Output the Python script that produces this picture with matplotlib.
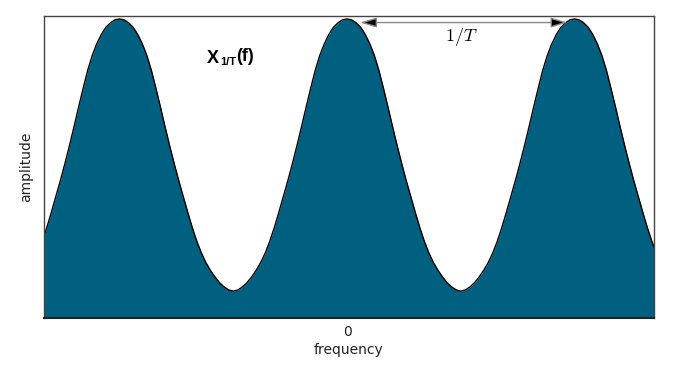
import numpy as np
import matplotlib.pyplot as plt

# --- Data ---
# frequency in units of 1/T (peaks at -1, 0, 1), sampled every 0.02
freq = np.linspace(-1.34, 1.36, 136)
amplitude = [0.256, 0.302, 0.353, 0.406, 0.460, 0.517, 0.577, 0.640, 0.705, 0.768,
             0.828, 0.878, 0.917, 0.948, 0.972, 0.987, 0.997, 1.000,
             0.997, 0.987, 0.972, 0.948, 0.917, 0.878, 0.828, 0.768, 0.705, 0.640,
             0.577, 0.517, 0.460, 0.406, 0.353, 0.302, 0.256, 0.217, 0.185, 0.159,
             0.137, 0.118, 0.104, 0.094, 0.090,
             0.094, 0.104, 0.118, 0.137, 0.159, 0.185, 0.217, 0.256, 0.302, 0.353,
             0.406, 0.460, 0.517, 0.577, 0.640, 0.705, 0.768, 0.828, 0.878, 0.917,
             0.948, 0.972, 0.987, 0.997, 1.000,
             0.997, 0.987, 0.972, 0.948, 0.917, 0.878, 0.828, 0.768, 0.705, 0.640,
             0.577, 0.517, 0.460, 0.406, 0.353, 0.302, 0.256, 0.217, 0.185, 0.159,
             0.137, 0.118, 0.104, 0.094, 0.090,
             0.094, 0.104, 0.118, 0.137, 0.159, 0.185, 0.217, 0.256, 0.302, 0.353,
             0.406, 0.460, 0.517, 0.577, 0.640, 0.705, 0.768, 0.828, 0.878, 0.917,
             0.948, 0.972, 0.987, 0.997, 1.000,
             0.997, 0.987, 0.972, 0.948, 0.917, 0.878, 0.828, 0.768, 0.705, 0.640,
             0.577, 0.517, 0.460, 0.406, 0.353, 0.302, 0.256, 0.217]
xticks = [0]
xtick_labels = ['0']

fig = plt.figure(figsize=(6.77, 3.80), dpi=100)
ax = fig.add_axes([0.065, 0.163, 0.901, 0.795])

ax.fill_between(freq, amplitude, 0, color='#015f80', lw=0)
ax.plot(freq, amplitude, color='black', lw=1.0)

ax.set_xlim(-1.332, 1.349)
ax.set_ylim(0, 1.01)

ax.set_xticks(xticks)
ax.set_xticklabels(xtick_labels)
ax.set_yticks([])
ax.tick_params(axis='x', length=0, pad=5, labelsize=10, labelcolor='#222222')
ax.set_xlabel('frequency', fontsize=10, color='#222222', labelpad=3)
ax.set_ylabel('amplitude', fontsize=10, color='#222222', labelpad=8)

for side in ['left', 'top', 'right']:
    ax.spines[side].set_color('#444444')
    ax.spines[side].set_linewidth(1.0)
ax.spines['bottom'].set_color('#222222')
ax.spines['bottom'].set_linewidth(1.5)

# X_{1/T}(f) label, built from three pieces so the subscript stays small
t1 = ax.text(-0.615, 0.853, 'X', fontsize=13, weight='bold',
             family='Liberation Sans', va='baseline', ha='left')
t2 = ax.annotate('1/T', xy=(1, 0), xycoords=t1, xytext=(0.5, 0),
                 textcoords='offset points', fontsize=8, weight='bold',
                 family='Liberation Sans', va='bottom', ha='left')
ax.annotate('(f)', xy=(1, 0), xycoords=t2, xytext=(0.3, 1.5),
            textcoords='offset points', fontsize=13, weight='bold',
            family='Liberation Sans', va='bottom', ha='left')

# period arrow
ax.annotate('', xy=(0.057, 0.988), xytext=(0.969, 0.988),
            arrowprops=dict(arrowstyle='<|-|>,head_length=1.0,head_width=0.3',
                            fc='black', ec='#888888', lw=1.0,
                            mutation_scale=10, shrinkA=0, shrinkB=0))
ax.text(0.501, 0.941, r'$1/T$', fontsize=13, ha='center', va='center',
        math_fontfamily='cm')

fig.savefig('out.png', dpi=100)
